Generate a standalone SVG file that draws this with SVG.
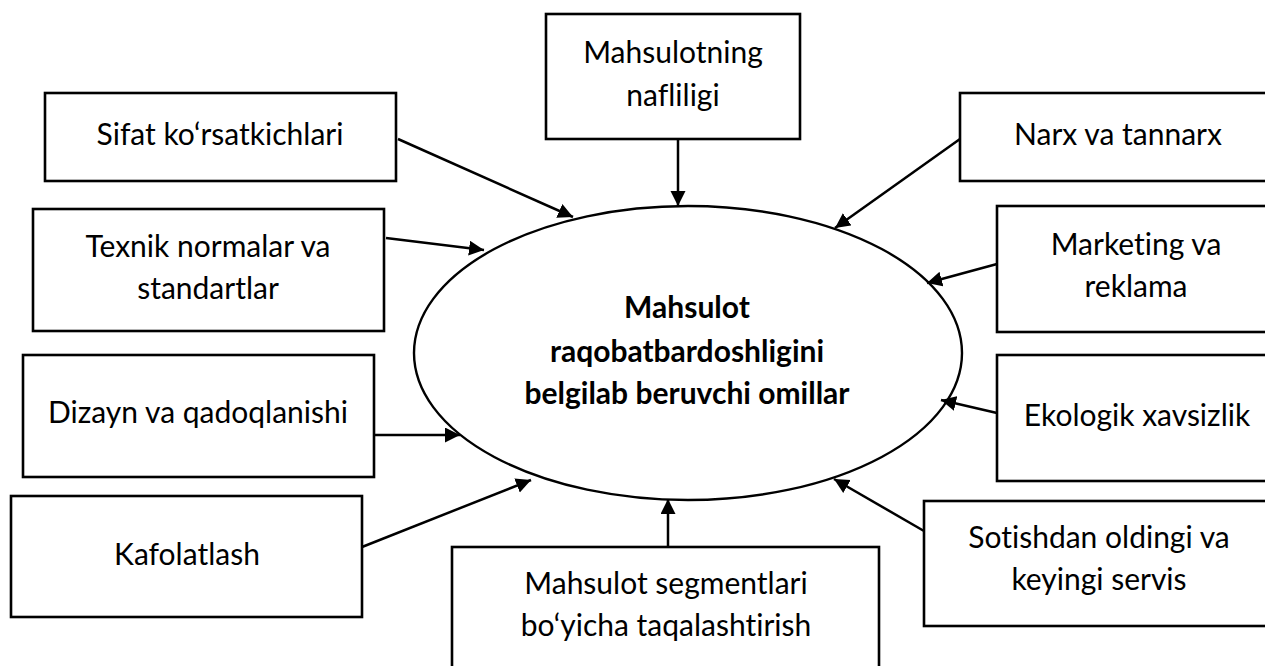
<svg xmlns="http://www.w3.org/2000/svg" width="1265" height="666" viewBox="0 0 1265 666">
<style>
.box{fill:#fff;stroke:#000;stroke-width:2.6}
.t{font-family:Lato,"Open Sans","Liberation Sans",sans-serif;font-size:30px;fill:#000;text-anchor:middle;font-variant-ligatures:none;font-feature-settings:"liga" 0}
.b{font-weight:bold}
.c{stroke:#000;stroke-width:2.5;fill:none;marker-end:url(#ah)}
</style>
<defs>
<marker id="ah" markerUnits="userSpaceOnUse" markerWidth="16" markerHeight="16" refX="15" refY="7.5" orient="auto" viewBox="0 0 16 16">
<path d="M0,0 L15,7.5 L0,15 z" fill="#000"/>
</marker>
</defs>
<rect width="1265" height="666" fill="#fff"/>
<g id="center">
<ellipse cx="688" cy="353" rx="274" ry="147" fill="#fff" stroke="#000" stroke-width="2.4"/>
<text class="t b" x="687" y="318">Mahsulot</text>
<text class="t b" x="687" y="362">raqobatbardoshligini</text>
<text class="t b" x="687" y="404">belgilab beruvchi omillar</text>
</g>
<g id="n-nafliligi">
<rect class="box" x="546" y="14" width="254" height="125"/>
<text class="t" x="673" y="63">Mahsulotning</text>
<text class="t" x="673" y="106">nafliligi</text>
</g>
<g id="n-sifat">
<rect class="box" x="45" y="93" width="351" height="88"/>
<text class="t" x="220" y="145">Sifat ko‘rsatkichlari</text>
</g>
<g id="n-narx">
<rect class="box" x="960" y="93" width="320" height="88"/>
<text class="t" x="1118" y="145">Narx va tannarx</text>
</g>
<g id="n-texnik">
<rect class="box" x="33" y="209" width="351" height="122"/>
<text class="t" x="208" y="257">Texnik normalar va</text>
<text class="t" x="208" y="299">standartlar</text>
</g>
<g id="n-marketing">
<rect class="box" x="997" y="206" width="283" height="126"/>
<text class="t" x="1136" y="255">Marketing va</text>
<text class="t" x="1136" y="297">reklama</text>
</g>
<g id="n-dizayn">
<rect class="box" x="23" y="355" width="351" height="122"/>
<text class="t" x="198" y="423">Dizayn va qadoqlanishi</text>
</g>
<g id="n-ekologik">
<rect class="box" x="997" y="355" width="283" height="126"/>
<text class="t" x="1137" y="426">Ekologik xavsizlik</text>
</g>
<g id="n-kafolatlash">
<rect class="box" x="11" y="496" width="351" height="121"/>
<text class="t" x="187" y="565">Kafolatlash</text>
</g>
<g id="n-sotishdan">
<rect class="box" x="924" y="501" width="356" height="125"/>
<text class="t" x="1099" y="548">Sotishdan oldingi va</text>
<text class="t" x="1099" y="590">keyingi servis</text>
</g>
<g id="n-segment">
<rect class="box" x="452" y="547" width="427" height="140"/>
<text class="t" x="666" y="594">Mahsulot segmentlari</text>
<text class="t" x="666" y="636">bo‘yicha taqalashtirish</text>
</g>
<g id="connectors">
<line class="c" x1="398" y1="139" x2="573" y2="217"/>
<line class="c" x1="678" y1="139" x2="678" y2="206"/>
<line class="c" x1="960" y1="139" x2="835" y2="228"/>
<line class="c" x1="386" y1="238" x2="484" y2="250"/>
<line class="c" x1="997" y1="264" x2="927" y2="283"/>
<line class="c" x1="374" y1="435" x2="460" y2="435"/>
<line class="c" x1="997" y1="413" x2="941" y2="400"/>
<line class="c" x1="362" y1="547" x2="531" y2="480"/>
<line class="c" x1="668" y1="547" x2="668" y2="499"/>
<line class="c" x1="924" y1="531" x2="834" y2="479"/>
</g>
</svg>
